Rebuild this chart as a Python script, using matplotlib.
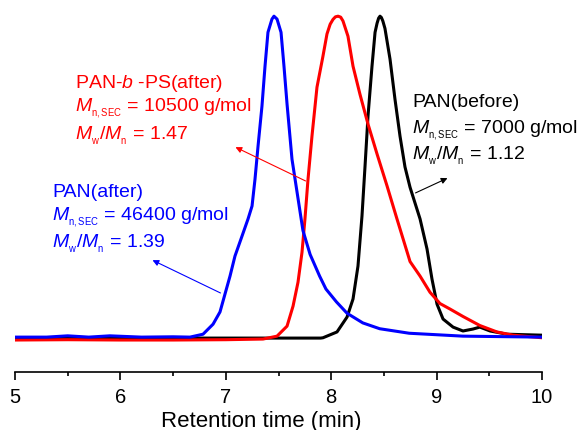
import matplotlib.pyplot as plt
from matplotlib.ticker import MultipleLocator

plt.rcParams['font.family'] = ['Liberation Sans', 'DejaVu Sans']
plt.rcParams['mathtext.fontset'] = 'custom'
plt.rcParams['mathtext.rm'] = 'Liberation Sans'
plt.rcParams['mathtext.it'] = 'Liberation Sans:italic'

# SEC traces, retention time (min) vs normalised signal
t_after = [5.0, 5.3, 5.5, 5.7, 5.9, 6.2, 6.5, 6.66, 6.784, 6.879, 6.945, 6.992, 7.040,
           7.087, 7.154, 7.211, 7.249, 7.277, 7.306, 7.343, 7.372, 7.400, 7.438, 7.457,
           7.486, 7.524, 7.552, 7.581, 7.628, 7.676, 7.732, 7.80, 7.89, 7.95, 8.05,
           8.15, 8.30, 8.46, 8.74, 9.25, 10.0]
s_after = [0.006, 0.006, 0.010, 0.006, 0.010, 0.006, 0.007, 0.006, 0.015, 0.046, 0.084,
           0.139, 0.195, 0.257, 0.319, 0.372, 0.412, 0.495, 0.598, 0.721, 0.845, 0.950,
           0.991, 1.0, 0.991, 0.950, 0.845, 0.728, 0.557, 0.455, 0.336, 0.262, 0.195,
           0.155, 0.115, 0.080, 0.050, 0.032, 0.018, 0.009, 0.006]

t_block = [5.0, 5.5, 6.0, 6.5, 7.0, 7.353, 7.486, 7.581, 7.638, 7.685, 7.723, 7.751,
           7.780, 7.818, 7.865, 7.92, 7.96, 7.99, 8.017, 8.04, 8.065, 8.09, 8.112, 8.159,
           8.207, 8.273, 8.349, 8.435, 8.530, 8.624, 8.748, 8.843, 8.937, 9.032, 9.127,
           9.25, 9.41, 9.573, 9.725, 10.0]
s_block = [-0.003, -0.002, -0.003, -0.003, -0.002, 0.0, 0.009, 0.040, 0.102, 0.176,
           0.269, 0.372, 0.495, 0.630, 0.780, 0.873, 0.945, 0.975, 0.99, 0.998, 1.0,
           0.997, 0.985, 0.938, 0.845, 0.758, 0.666, 0.573, 0.474, 0.372, 0.240, 0.195,
           0.145, 0.110, 0.093, 0.070, 0.042, 0.022, 0.012, 0.004]

t_before = [5.0, 6.0, 7.0, 7.9, 7.922, 8.055, 8.150, 8.207, 8.254, 8.292, 8.321, 8.349,
            8.387, 8.416, 8.435, 8.450, 8.463, 8.476, 8.490, 8.510, 8.558, 8.605, 8.653,
            8.700, 8.748, 8.843, 8.909, 8.956, 9.004, 9.061, 9.156, 9.250, 9.345, 9.41,
            9.507, 9.668, 10.0]
s_before = [0.003, 0.003, 0.003, 0.003, 0.004, 0.022, 0.068, 0.124, 0.226, 0.381, 0.536,
            0.690, 0.845, 0.950, 0.978, 0.994, 1.0, 0.996, 0.985, 0.962, 0.867, 0.743,
            0.628, 0.533, 0.470, 0.372, 0.279, 0.186, 0.108, 0.062, 0.037, 0.025, 0.031,
            0.037, 0.025, 0.015, 0.012]

fig = plt.figure(figsize=(5.81, 4.31), dpi=100)
ax = fig.add_axes([0.0258, 0.1346, 0.9071, 0.842])

ax.plot(t_before, s_before, color='black', lw=2.2, solid_joinstyle='round')
ax.plot(t_block, s_block, color='#ff0000', lw=2.2, solid_joinstyle='round')
ax.plot(t_after, s_after, color='#0000ff', lw=2.2, solid_joinstyle='round')

ax.set_xlim(5, 10)
ax.set_ylim(-0.102, 1.022)
ax.xaxis.set_major_locator(MultipleLocator(1))
ax.xaxis.set_minor_locator(MultipleLocator(0.5))
ax.tick_params(axis='x', which='major', direction='out', length=6, width=1.2, labelsize=14.5, pad=5)
ax.tick_params(axis='x', which='minor', direction='out', length=3, width=1.2)
ax.set_yticks([])
for side in ['top', 'right', 'left']:
    ax.spines[side].set_visible(False)
ax.spines['bottom'].set_linewidth(1.2)
ax.set_xlabel('Retention time (min)', fontsize=16)
ax.xaxis.set_label_coords(0.467, -0.104)

fs = 14
mn = r'$M_{{}_{\mathrm{n,SEC}}}$'
mwmn = r'$M_{{}_{\mathrm{w}}}/M_{{}_{\mathrm{n}}}$'

# red labels
ax.text(5.569, 0.781, 'PAN-$b$ -PS(after)', color='#ff0000', fontsize=fs, va='baseline')
ax.text(5.569, 0.707, mn + ' = 10500 g/mol', color='#ff0000', fontsize=fs, va='baseline')
ax.text(5.569, 0.619, mwmn + ' = 1.47', color='#ff0000', fontsize=fs, va='baseline')
ax.annotate('', xy=(7.068, 0.598), xytext=(7.78, 0.486),
            arrowprops=dict(arrowstyle='-|>', color='#ff0000', lw=0.8, mutation_scale=9))

# blue labels
ax.text(5.351, 0.444, 'PAN(after)', color='#0000ff', fontsize=fs, va='baseline')
ax.text(5.351, 0.372, mn + ' = 46400 g/mol', color='#0000ff', fontsize=fs, va='baseline')
ax.text(5.351, 0.285, mwmn + ' = 1.39', color='#0000ff', fontsize=fs, va='baseline')
ax.annotate('', xy=(6.281, 0.248), xytext=(6.973, 0.139),
            arrowprops=dict(arrowstyle='-|>', color='#0000ff', lw=0.8, mutation_scale=9))

# black labels
ax.text(8.767, 0.722, 'PAN(before)', color='black', fontsize=fs, va='baseline')
ax.text(8.767, 0.641, mn + ' = 7000 g/mol', color='black', fontsize=fs, va='baseline')
ax.text(8.767, 0.557, mwmn + ' = 1.12', color='black', fontsize=fs, va='baseline')
ax.annotate('', xy=(9.127, 0.502), xytext=(8.776, 0.449),
            arrowprops=dict(arrowstyle='-|>', color='black', lw=0.8, mutation_scale=9))

fig.savefig('out.png', dpi=100)
